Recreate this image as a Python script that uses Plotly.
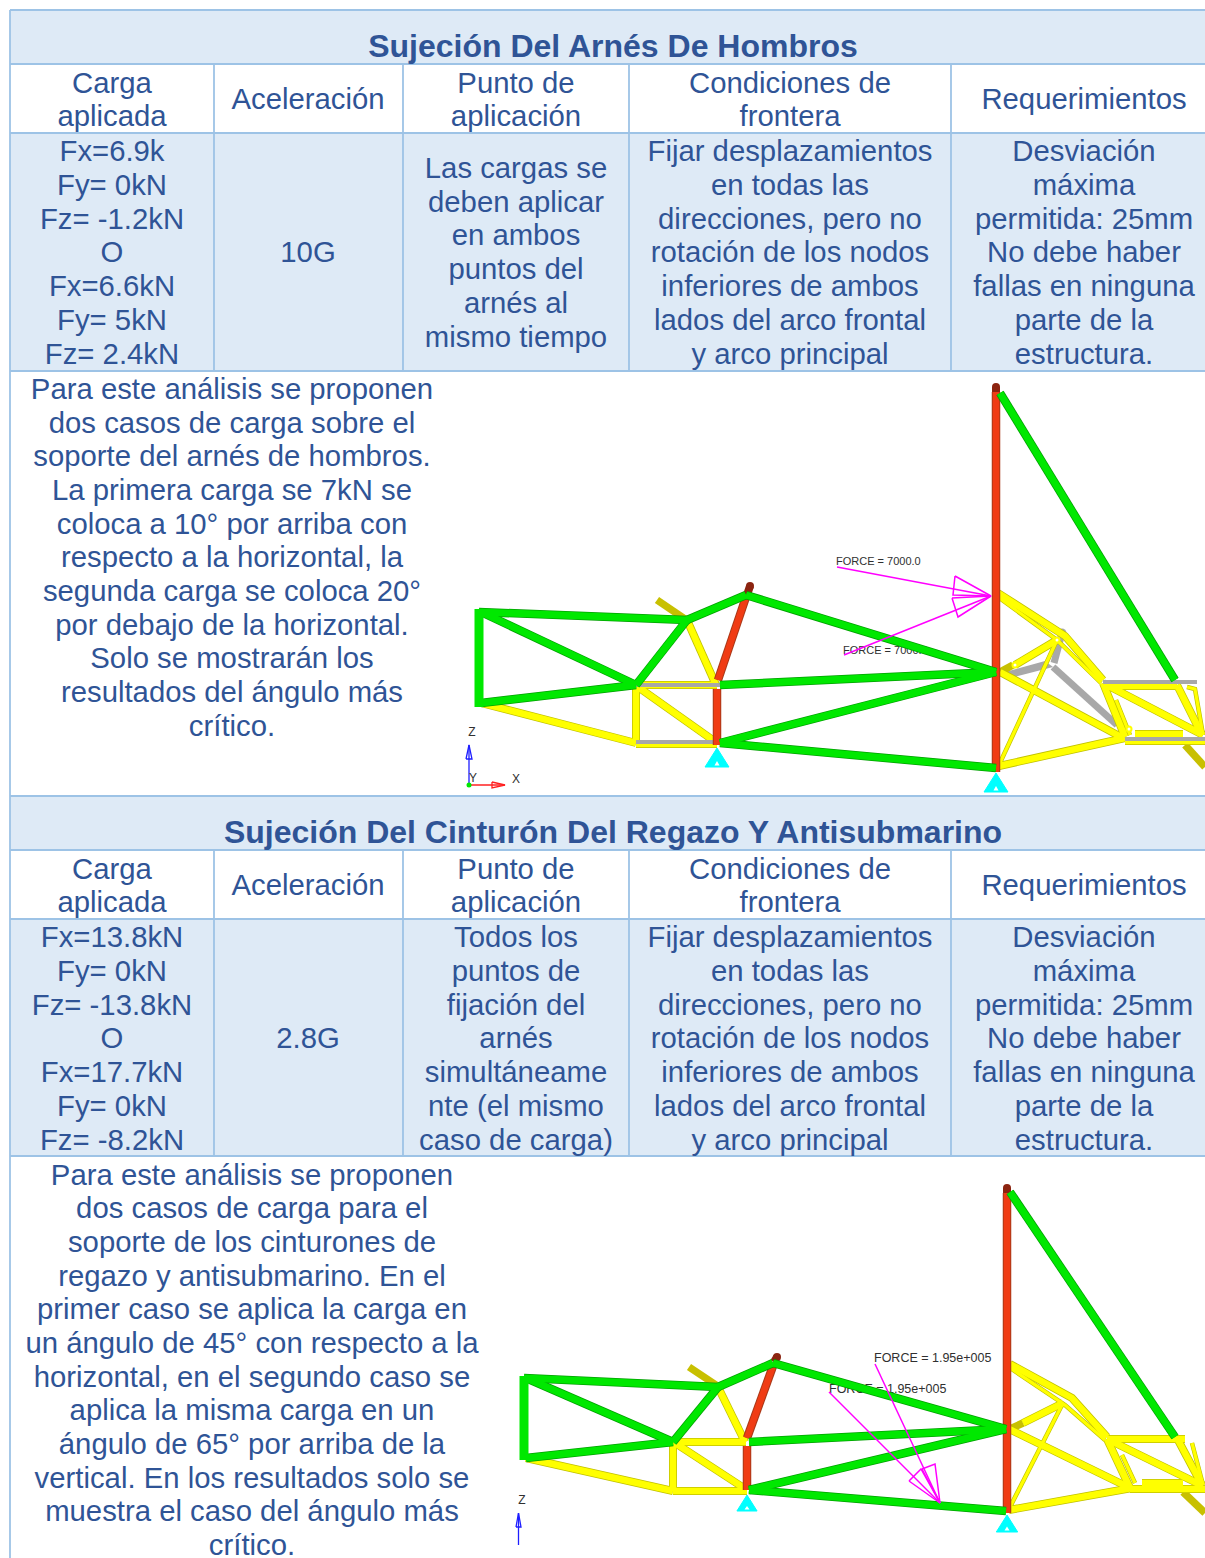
import plotly.graph_objects as go

# ---------- text content ----------
title_1 = "Sujeción Del Arnés De Hombros"
title_2 = "Sujeción Del Cinturón Del Regazo Y Antisubmarino"
headers = [["Carga", "aplicada"], ["Aceleración"], ["Punto de", "aplicación"],
           ["Condiciones de", "frontera"], ["Requerimientos"]]
col_centers = [112, 308, 516, 790, 1084]
row_1 = [
    ["Fx=6.9k", "Fy= 0kN", "Fz= -1.2kN", "O", "Fx=6.6kN", "Fy= 5kN", "Fz= 2.4kN"],
    ["10G"],
    ["Las cargas se", "deben aplicar", "en ambos", "puntos del", "arnés al", "mismo tiempo"],
    ["Fijar desplazamientos", "en todas las", "direcciones, pero no", "rotación de los nodos",
     "inferiores de ambos", "lados del arco frontal", "y arco principal"],
    ["Desviación", "máxima", "permitida: 25mm", "No debe haber", "fallas en ninguna",
     "parte de la", "estructura."],
]
row_2 = [
    ["Fx=13.8kN", "Fy= 0kN", "Fz= -13.8kN", "O", "Fx=17.7kN", "Fy= 0kN", "Fz= -8.2kN"],
    ["2.8G"],
    ["Todos los", "puntos de", "fijación del", "arnés", "simultáneame", "nte (el mismo", "caso de carga)"],
    row_1[3],
    row_1[4],
]
para_1 = ["Para este análisis se proponen", "dos casos de carga sobre el", "soporte del arnés de hombros.",
          "La primera carga se 7kN se", "coloca a 10° por arriba con", "respecto a la horizontal, la",
          "segunda carga se coloca 20°", "por debajo de la horizontal.", "Solo se mostrarán los",
          "resultados del ángulo más", "crítico."]
para_2 = ["Para este análisis se proponen", "dos casos de carga para el", "soporte de los cinturones de",
          "regazo y antisubmarino. En el", "primer caso se aplica la carga en",
          "un ángulo de 45° con respecto a la", "horizontal, en el segundo caso se",
          "aplica la misma carga en un", "ángulo de 65° por arriba de la",
          "vertical. En los resultados solo se", "muestra el caso del ángulo más", "crítico."]

# ---------- table geometry ----------
band_rects = [(10, 10, 1205, 64), (10, 133, 1205, 371), (10, 796, 1205, 850), (10, 919, 1205, 1156)]
h_rules = [[(10, 10), (1205, 10)], [(10, 64), (1205, 64)], [(10, 133), (1205, 133)], [(10, 371), (1205, 371)],
           [(10, 796), (1205, 796)], [(10, 850), (1205, 850)], [(10, 919), (1205, 919)], [(10, 1156), (1205, 1156)]]
v_rules = [[(10, 10), (10, 1558)]] + [[(x, y0), (x, y1)] for x in (214, 403, 629, 951)
                                      for y0, y1 in ((64, 371), (850, 1156))]

# ---------- upper frame ----------
f1_shadow = [[(1053, 667), (1117, 725)], [(1062, 633), (1054, 663)]]
f1_shadow_blob = [(1005, 672), (1045, 661), (1053, 667), (1010, 678), (1005, 672)]
f1_olive = [[(657, 600), (685, 619)], [(1000, 672), (1013, 665)], [(1185, 745), (1205, 767)]]
f1_yellow = [[(636, 685), (717, 685)], [(636, 686), (636, 743)], [(638, 687), (717, 743)], [(636, 744), (717, 744)],
             [(481, 703), (636, 743)], [(687, 620), (716, 685)], [(998, 593), (1058, 630), (1065, 636), (1103, 680)],
             [(1000, 672), (1123, 738)], [(999, 766), (1125, 738)], [(1103, 683), (1125, 737)],
             [(1103, 683), (1203, 735)], [(1103, 686), (1177, 686)], [(1015, 665), (1057, 640)],
             [(1177, 685), (1202, 735)], [(1135, 734), (1183, 734)], [(1125, 741), (1205, 741)]]
f1_yellow_thin = [[(998, 597), (1053, 638), (1057, 640), (1101, 683)], [(1057, 640), (999, 765)],
                  [(1187, 687), (1195, 689), (1203, 735)], [(1116, 700), (1130, 735)]]
f1_gray = [[(636, 685), (721, 685)], [(636, 742), (721, 742)], [(1103, 682), (1197, 682)], [(1125, 739), (1205, 739)]]
f1_red = [[(717, 745), (717, 689)], [(718, 680), (746, 597)], [(996, 392), (996, 772)]]
f1_darkred = [[(747, 595), (750, 586)], [(996, 387), (996, 392)]]
f1_caps = [(750, 586), (996, 387)]
f1_pivots = [(1015, 665), (1057, 640), (1129, 729)]
f1_green = [[(479, 612), (687, 620)], [(481, 612), (636, 685)], [(481, 703), (636, 685)], [(636, 685), (687, 620)],
            [(687, 620), (746, 595)], [(746, 595), (996, 672)], [(720, 685), (996, 672)], [(720, 743), (996, 672)],
            [(720, 743), (996, 768)], [(1000, 393), (1175, 680)]]
f1_green_wide = [[(479, 609), (479, 707)]]
f1_force_shafts = [[(837, 567), (991, 596)], [(844, 655), (991, 596)]]
f1_force_heads = [[(955, 576), (991, 596), (953, 595), (955, 576)], [(952, 598), (991, 596), (958, 617), (952, 598)]]
f1_labels = [(836, 562, "FORCE = 7000.0"), (843, 651, "FORCE = 7000.0")]
f1_supports = [(717, 748, 767), (996, 773, 792)]
f1_axis_blue = [[(469, 745), (469, 785)], [(466, 759), (469, 745), (472, 759), (466, 759)]]
f1_axis_red = [[(469, 785), (505, 785)], [(492, 782), (505, 785), (492, 788), (492, 782)]]
f1_axis_text = [(472, 733, "Z"), (473, 779, "Y"), (516, 780, "X")]

# ---------- lower frame ----------
f2_olive = [[(689, 1367), (716, 1385)], [(1010, 1429), (1023, 1423)], [(1183, 1492), (1205, 1513)]]
f2_yellow = [[(673, 1442), (746, 1442)], [(673, 1443), (673, 1491)], [(675, 1443), (747, 1490)], [(673, 1491), (747, 1491)],
             [(526, 1458), (673, 1491)], [(718, 1387), (745, 1442)], [(1010, 1364), (1068, 1395), (1072, 1398), (1107, 1437)],
             [(1009, 1429), (1130, 1488)], [(1009, 1510), (1132, 1488)], [(1107, 1439), (1130, 1488)],
             [(1107, 1439), (1203, 1486)], [(1107, 1439), (1185, 1439)], [(1023, 1423), (1063, 1403)],
             [(1178, 1440), (1202, 1485)], [(1142, 1483), (1183, 1483)], [(1130, 1489), (1205, 1489)]]
f2_yellow_thin = [[(1010, 1368), (1062, 1403), (1065, 1405), (1105, 1440)], [(1063, 1403), (1010, 1507)],
                  [(1192, 1443), (1203, 1485)], [(1122, 1455), (1135, 1483)]]
f2_red = [[(747, 1490), (747, 1446)], [(747, 1438), (773, 1366)], [(1007, 1193), (1007, 1513)]]
f2_darkred = [[(774, 1362), (777, 1357)], [(1007, 1188), (1007, 1193)]]
f2_caps = [(777, 1357), (1007, 1188)]
f2_green = [[(524, 1378), (718, 1387)], [(526, 1378), (673, 1442)], [(526, 1458), (673, 1442)], [(673, 1442), (718, 1387)],
            [(718, 1387), (773, 1363)], [(773, 1363), (1006, 1429)], [(749, 1442), (1006, 1429)], [(749, 1490), (1006, 1429)],
            [(749, 1490), (1006, 1511)], [(1010, 1192), (1175, 1437)]]
f2_green_wide = [[(524, 1376), (524, 1460)]]
f2_force_shafts = [[(875, 1364), (940, 1503)], [(829, 1392), (940, 1503)]]
f2_force_heads = [[(922, 1469), (940, 1503), (935, 1464), (922, 1469)], [(909, 1481), (940, 1503), (921, 1469), (909, 1481)]]
f2_labels = [(874, 1359, "FORCE = 1.95e+005"), (829, 1390, "FORCE = 1.95e+005")]
f2_supports = [(747, 1495, 1511), (1007, 1515, 1532)]
f2_axis_blue = [[(518.5, 1513), (518.5, 1545)], [(516, 1527), (518.5, 1513), (521, 1527), (516, 1527)]]
f2_axis_text = [(522, 1501, "Z")]

# ---------- colours ----------
BAND = "#deeaf6"
RULE = "#9dc3e6"
INK = "#2f5496"
GREEN, GREEN_EDGE = "#00e800", "#00a000"
YELLOW, YELLOW_EDGE = "#ffff00", "#c0c000"
RED, RED_EDGE = "#f03c14", "#a83818"
DARKRED = "#8c2410"
OLIVE = "#c8c000"
GRAY = "#a8a8a8"
MAGENTA = "#ff00ff"
CYAN = "#00ffff"
FONT = "Liberation Sans"

fig = go.Figure()


def polylines(parts, color, width):
    xs, ys = [], []
    for part in parts:
        xs += [p[0] for p in part] + [None]
        ys += [p[1] for p in part] + [None]
    fig.add_trace(go.Scatter(x=xs, y=ys, mode="lines", line=dict(color=color, width=width), hoverinfo="skip"))


def dots(points, color, size, edge=None, edge_width=0):
    fig.add_trace(go.Scatter(x=[p[0] for p in points], y=[p[1] for p in points], mode="markers", hoverinfo="skip",
                             marker=dict(color=color, size=size, line=dict(color=edge or color, width=edge_width))))


def texts(items, size, color=INK, bold=False, position="middle center"):
    fig.add_trace(go.Scatter(
        x=[i[0] for i in items], y=[i[1] for i in items], text=[i[2] for i in items], mode="text",
        textposition=position, hoverinfo="skip",
        textfont=dict(family=FONT, size=size, color=color, weight=700 if bold else 400)))


for x0, y0, x1, y1 in band_rects:
    fig.add_trace(go.Scatter(x=[x0, x1, x1, x0, x0], y=[y0, y0, y1, y1, y0], mode="lines", fill="toself",
                             fillcolor=BAND, line=dict(width=0), hoverinfo="skip"))
polylines(h_rules, RULE, 1.8)
polylines(v_rules, RULE, 1.8)


def draw_frame(olive, yellow, thin, gray, red, darkred, caps, green, green_wide, shafts, heads, labels, label_size, supports):
    polylines(olive, OLIVE, 7.5)
    polylines(yellow, YELLOW_EDGE, 8)
    polylines(thin, YELLOW_EDGE, 4.5)
    polylines(yellow, YELLOW, 6.5)
    polylines(thin, YELLOW, 3.2)
    if gray:
        polylines(gray, GRAY, 4)
    polylines(red, RED_EDGE, 8.5)
    polylines(red, RED, 6.5)
    polylines(darkred, DARKRED, 8)
    dots(caps, DARKRED, 8)
    texts(labels, label_size, "#303030", position="middle right")
    polylines(green, GREEN_EDGE, 8.5)
    polylines(green, GREEN, 7)
    polylines(green_wide, GREEN, 9)
    polylines(shafts + heads, MAGENTA, 1.5)
    for cx, top, base in supports:
        half = (base - top) * 0.63
        fig.add_trace(go.Scatter(x=[cx, cx + half, cx - half, cx], y=[top, base, base, top], mode="lines", fill="toself",
                                 fillcolor=CYAN, line=dict(color=CYAN, width=1), hoverinfo="skip"))
        inner_top = base - (base - top) * 0.32
        fig.add_trace(go.Scatter(x=[cx, cx + 2.5, cx - 2.5, cx], y=[inner_top, base - 1.5, base - 1.5, inner_top], mode="lines",
                                 fill="toself", fillcolor="white", line=dict(width=0), hoverinfo="skip"))


polylines(f1_shadow, GRAY, 7)
fig.add_trace(go.Scatter(x=[p[0] for p in f1_shadow_blob], y=[p[1] for p in f1_shadow_blob], mode="lines", fill="toself",
                         fillcolor=GRAY, line=dict(width=0), hoverinfo="skip"))
dots([f1_shadow[1][0]], GRAY, 9)
draw_frame(f1_olive, f1_yellow, f1_yellow_thin, f1_gray, f1_red, f1_darkred, f1_caps, f1_green, f1_green_wide,
           f1_force_shafts, f1_force_heads, f1_labels, 11, f1_supports)
dots(f1_pivots, "white", 5, YELLOW, 2)
draw_frame(f2_olive, f2_yellow, f2_yellow_thin, [], f2_red, f2_darkred, f2_caps, f2_green, f2_green_wide,
           f2_force_shafts, f2_force_heads, f2_labels, 12.5, f2_supports)
polylines(f1_axis_blue + f2_axis_blue, "#1e1eff", 1.3)
polylines(f1_axis_red, "#ff2020", 1.3)
dots([(469, 785)], "#00e800", 5)
texts(f1_axis_text + f2_axis_text, 12, "#303030")

LINE = 33.75
table_text = []
for top, rows in ((0, row_1), (786, row_2)):
    for cx, hdr in zip(col_centers, headers):
        ys = [101.5] if len(hdr) == 1 else [85.5, 118.5]
        table_text += [(cx, y + top, t) for y, t in zip(ys, hdr)]
    mid = 255 + top
    for cx, cell in zip(col_centers, rows):
        start = mid - (len(cell) - 1) * LINE / 2
        table_text += [(cx, start + i * LINE, t) for i, t in enumerate(cell)]
table_text += [(232, 391.5 + i * 33.7, t) for i, t in enumerate(para_1)]
table_text += [(252, 1177.5 + i * 33.64, t) for i, t in enumerate(para_2)]
texts(table_text, 29.3)
texts([(613, 49, title_1), (613, 835, title_2)], 32, bold=True)

fig.update_layout(
    width=1205, height=1558, margin=dict(l=0, r=0, t=0, b=0), showlegend=False,
    paper_bgcolor="white", plot_bgcolor="white",
    xaxis=dict(range=[0, 1205], visible=False, fixedrange=True),
    yaxis=dict(range=[1558, 0], visible=False, fixedrange=True),
)
fig.write_html("out.html", config=dict(displayModeBar=False),
               post_script="document.body.style.margin='0';document.body.style.overflow='hidden';")
